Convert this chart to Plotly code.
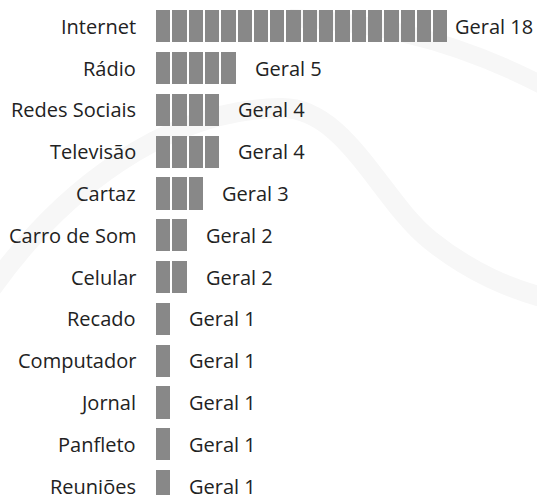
import plotly.graph_objects as go

# Meios de divulgação: contagem geral por canal
categories = ["Internet", "Rádio", "Redes Sociais", "Televisão", "Cartaz",
              "Carro de Som", "Celular", "Recado", "Computador", "Jornal",
              "Panfleto", "Reuniões"]
values = [18, 5, 4, 4, 3, 2, 2, 1, 1, 1, 1, 1]
value_prefix = "Geral"

W, H = 537, 495
PX_PER_UNIT = 16.3      # horizontal pitch of one pictogram block
ROW_PX = 41.8           # vertical pitch of one row
LEFT_PX = 156           # where the blocks start
TOP_CENTER_PX = 26.3    # centre of the first row
BLOCK_FILL = 0.877      # share of a unit covered by a block
BAR_FILL = 0.766        # share of a row covered by a block

# one segment per unit, stacked by base
seg_y, seg_base, seg_len = [], [], []
for i, v in enumerate(values):
    for k in range(v):
        seg_y.append(i)
        seg_base.append(k)
        seg_len.append(BLOCK_FILL)

fig = go.Figure(go.Bar(
    y=seg_y, x=seg_len, base=seg_base, orientation="h",
    width=BAR_FILL, marker=dict(color="#888888", line=dict(width=0)),
    hoverinfo="skip", showlegend=False,
))


def row_paper_y(i):
    return 1 - (TOP_CENTER_PX + i * ROW_PX) / H


font = dict(family="Open Sans", size=20, color="#222222")
annotations = []
for i, (cat, v) in enumerate(zip(categories, values)):
    annotations.append(dict(
        x=0, y=row_paper_y(i), xref="x", yref="paper", text=cat,
        showarrow=False, xanchor="right", yanchor="middle", xshift=-18,
        font=font,
    ))
    annotations.append(dict(
        x=v, y=row_paper_y(i), xref="x", yref="paper",
        text=f"{value_prefix} {v}", showarrow=False, xanchor="right",
        yanchor="middle", xshift=86, font=font,
    ))


def P(px, py):
    return f"{px / W:.4f},{1 - py / H:.4f}"


# faint background watermark arcs
wm = "#f7f7f7"
shapes = [
    dict(type="path", xref="paper", yref="paper", layer="below",
         path=(f"M {P(-20, 305)} C {P(60, 185)} {P(170, 110)} {P(280, 108)} "
               f"C {P(345, 106)} {P(380, 200)} {P(430, 240)} "
               f"C {P(470, 272)} {P(510, 290)} {P(560, 302)}"),
         line=dict(color=wm, width=20)),
    dict(type="path", xref="paper", yref="paper", layer="below",
         path=f"M {P(290, 18)} C {P(390, 22)} {P(480, 50)} {P(560, 95)}",
         line=dict(color=wm, width=18)),
]

fig.update_layout(
    width=W, height=H,
    margin=dict(l=0, r=0, t=0, b=0),
    paper_bgcolor="white", plot_bgcolor="rgba(0,0,0,0)",
    xaxis=dict(range=[-LEFT_PX / PX_PER_UNIT, (W - LEFT_PX) / PX_PER_UNIT],
               visible=False, fixedrange=True),
    yaxis=dict(range=[(H - TOP_CENTER_PX) / ROW_PX, -TOP_CENTER_PX / ROW_PX],
               visible=False, fixedrange=True),
    annotations=annotations,
    shapes=shapes,
    bargap=0,
)

fig.write_html("out.html", config={"displayModeBar": False})
